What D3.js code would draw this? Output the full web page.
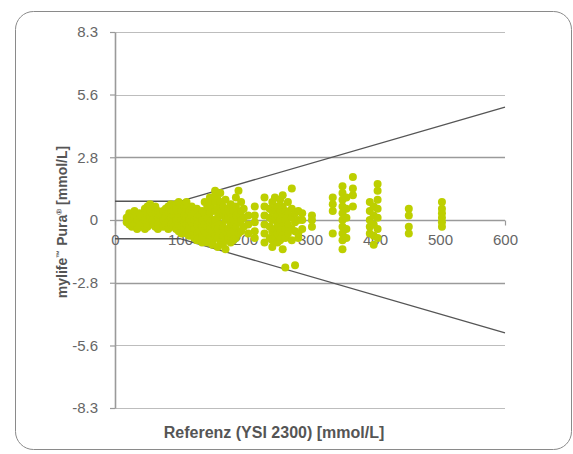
<!DOCTYPE html>
<html lang="de">
  <head>
    <meta charset="UTF-8" />
    <title>mylife Pura Differenzplot</title>
    <script src="https://cdn.jsdelivr.net/npm/d3@7"></script>
    <style>
      body {
        margin: 0;
        background: #fff;
      }
      text {
        font-family: "Liberation Sans", Arial, sans-serif;
      }
    </style>
  </head>
  <body>
    <script>
      // Referenzwerte (Spalten) und die gemessenen Abweichungen je Spalte
      var referenz = [
        18, 22, 26, 30, 34, 38, 42, 46, 50, 54, 58, 62, 66, 70, 74, 78, 82, 86,
        90, 94, 98, 102, 106, 110, 114, 118, 122, 126, 130, 134, 138, 142, 146,
        150, 154, 158, 162, 166, 170, 174, 178, 182, 186, 190, 194, 198, 205,
        215, 230, 238, 242, 246, 250, 254, 258, 262, 266, 272, 277, 282, 288,
        303, 335, 350, 356, 366, 392, 398, 404, 452, 503
      ];
      var abweichung = [
        [0.1, -0.1],
        [0.3, 0.0, -0.2],
        [0.2, -0.1, -0.3, 0.1],
        [0.4, 0.1, -0.2],
        [0.0, -0.4, 0.2],
        [0.3, -0.1, -0.3],
        [0.1, -0.2, 0.2],
        [0.5, 0.0, -0.4],
        [0.6, 0.3, -0.1, -0.3],
        [0.7, 0.4, 0.1, -0.2],
        [0.5, 0.2, -0.1, 0.0],
        [0.6, 0.3, -0.3],
        [0.4, 0.1, -0.2, -0.4],
        [0.2, -0.1, 0.3],
        [0.4, 0.0, -0.3],
        [0.2, -0.2, 0.5, 0.1],
        [0.6, 0.3, -0.1, -0.4],
        [0.7, 0.4, 0.1, -0.2],
        [0.6, 0.2, -0.1, -0.3, 0.4],
        [0.7, 0.5, 0.0, -0.4],
        [0.8, 0.3, 0.1, -0.2, -0.5],
        [0.7, 0.4, 0.0, -0.3, -0.6],
        [0.6, 0.2, -0.1, -0.4],
        [0.8, 0.5, 0.1, -0.2, -0.6],
        [0.4, 0.0, -0.3, -0.7],
        [0.6, 0.2, -0.1, -0.5],
        [0.3, 0.0, -0.4, -0.8],
        [0.5, 0.1, -0.2, -0.6, -0.9],
        [0.2, -0.1, -0.5, -0.8],
        [0.4, 0.0, -0.3, -0.7, -1.0],
        [0.8, 0.3, -0.2, -0.5, -0.9],
        [0.6, 0.1, -0.3, -0.6, -1.0],
        [1.0, 0.7, 0.3, -0.1, -0.4, -0.8],
        [0.5, 0.0, -0.5, -0.9, -1.1],
        [1.3, 1.1, 0.8, 0.4, 0.0, -0.3, -0.7],
        [0.9, 0.5, 0.1, -0.4, -0.8, -1.2],
        [1.2, 0.8, 0.3, -0.2, -0.6, -1.0],
        [0.6, 0.2, -0.3, -0.7, -1.1],
        [0.9, 0.4, 0.0, -0.5, -0.9, -1.3],
        [0.5, 0.1, -0.4, -0.8],
        [0.7, 0.3, -0.2, -0.6, -1.0],
        [0.4, 0.0, -0.5, -0.9],
        [1.0, 0.6, 0.2, -0.3, -0.8],
        [1.3, 0.3, -0.1, -0.6],
        [0.8, 0.4, 0.0, -0.5],
        [0.5, 0.1, -0.3],
        [0.2, -0.2, -0.6],
        [0.6, 0.2, -0.1, -0.5, -0.8],
        [1.0, 0.6, 0.2, -0.2, -0.6, -1.0],
        [0.5, 0.1, -0.3, -0.8],
        [0.8, 0.4, 0.0, -0.5, -0.9, -1.2],
        [1.0, 0.5, 0.1, -0.4, -0.8],
        [0.6, 0.2, -0.2, -0.6, -1.0],
        [0.9, 0.4, 0.0, -0.5, -0.9],
        [1.1, 0.6, 0.2, -0.3, -0.7, -1.3],
        [0.4, 0.0, -0.4, -0.8, -2.1],
        [0.8, 0.3, -0.2, -0.6],
        [1.4, 0.5, 0.1, -0.4, -0.9],
        [0.3, -0.1, -0.5, -2.0],
        [0.4, 0.0, -0.6, -0.8],
        [0.3, 0.0, -0.4],
        [0.2, 0.0, -0.3],
        [1.0, 0.7, 0.4, -0.6],
        [1.5, 1.2, 0.9, 0.6, 0.3, 0.0, -0.3, -0.6, -0.9, -1.3],
        [1.0, 0.5, 0.1, -0.4, -0.8],
        [1.9, 1.4, 1.1, 0.6],
        [0.8, 0.4, 0.0, -0.3, -0.6],
        [0.6, 0.2, -0.2, -0.7, -1.1],
        [1.6, 1.3, 0.9, 0.5, 0.1, -0.4, -0.8],
        [0.5, 0.2, -0.3, -0.6],
        [0.8, 0.5, 0.3, 0.1, -0.1, -0.3]
      ];

      // Grenzlinien (+/- 0.83 mmol/L bis 100, danach +/- 15 %)
      var grenzeX = [0, 100, 600];
      var grenzeOben = [0.83, 0.83, 5.0];
      var grenzeUnten = [-0.83, -0.83, -5.0];

      var xTicks = [0, 100, 200, 300, 400, 500, 600];
      var yTicks = [-8.33, -5.56, -2.78, 0, 2.78, 5.56, 8.33];

      var punkte = [];
      referenz.forEach(function (r, i) {
        abweichung[i].forEach(function (d) {
          punkte.push({ x: r, y: d });
        });
      });

      var width = 573,
        height = 454;

      var svg = d3
        .select("body")
        .append("svg")
        .attr("width", width)
        .attr("height", height);

      // Rahmen
      svg
        .append("rect")
        .attr("x", 15.5)
        .attr("y", 11.5)
        .attr("width", 556)
        .attr("height", 438)
        .attr("rx", 18)
        .attr("fill", "none")
        .attr("stroke", "#8a8a8a")
        .attr("stroke-width", 1);

      var x = d3.scaleLinear().domain([0, 600]).range([115, 505]);
      var y = d3.scaleLinear().domain([-8.33, 8.33]).range([408, 32]);

      // Gitterlinien
      svg
        .append("g")
        .selectAll("line")
        .data(yTicks)
        .enter()
        .append("line")
        .attr("x1", x(0))
        .attr("x2", x(600))
        .attr("y1", function (d) {
          return Math.round(y(d)) + 0.5;
        })
        .attr("y2", function (d) {
          return Math.round(y(d)) + 0.5;
        })
        .attr("stroke", function (d) {
          return Math.abs(d) < 3 ? "#9a9a9a" : "#bdbdbd";
        })
        .attr("stroke-width", function (d) {
          return d === 0 ? 1.6 : Math.abs(d) < 3 ? 1.3 : 1.1;
        });

      function fmt(d) {
        return d === 0 ? "0" : d.toFixed(1);
      }

      // y-Achse
      var yAxis = d3
        .axisLeft(y)
        .tickValues(yTicks)
        .tickSize(5)
        .tickSizeOuter(0)
        .tickPadding(12)
        .tickFormat(fmt);

      var gy = svg
        .append("g")
        .attr("transform", "translate(" + x(0) + ",0)")
        .call(yAxis);
      gy.select(".domain").attr("stroke", "#9a9a9a").attr("stroke-width", 1.6);
      gy.selectAll(".tick line")
        .attr("stroke", "#9a9a9a")
        .attr("stroke-width", 1.2);
      gy.selectAll(".tick text")
        .attr("fill", "#666")
        .style("font-size", "15px")
        .style("font-family", '"Liberation Sans", Arial, sans-serif');

      // x-Achse auf der Nulllinie
      var xAxis = d3
        .axisBottom(x)
        .tickValues(xTicks)
        .tickSize(5)
        .tickSizeOuter(0)
        .tickPadding(9);

      var gx = svg
        .append("g")
        .attr("transform", "translate(0," + (Math.round(y(0)) + 0.5) + ")")
        .call(xAxis);
      gx.select(".domain").remove();
      gx.selectAll(".tick line")
        .attr("stroke", "#9a9a9a")
        .attr("stroke-width", 1.2);
      gx.selectAll(".tick text")
        .attr("fill", "#666")
        .style("font-size", "15px")
        .style("font-family", '"Liberation Sans", Arial, sans-serif');

      // Grenzlinien
      var linie = d3
        .line()
        .x(function (d) {
          return x(d[0]);
        })
        .y(function (d) {
          return y(d[1]);
        });

      [grenzeOben, grenzeUnten].forEach(function (g) {
        svg
          .append("path")
          .attr("d", linie(d3.zip(grenzeX, g)))
          .attr("fill", "none")
          .attr("stroke", "#555")
          .attr("stroke-width", 1.3);
      });

      // Messpunkte
      svg
        .append("g")
        .selectAll("circle")
        .data(punkte)
        .enter()
        .append("circle")
        .attr("cx", function (d) {
          return x(d.x);
        })
        .attr("cy", function (d) {
          return y(d.y);
        })
        .attr("r", 4)
        .attr("fill", "#bdcf00");

      // Achsentitel
      svg
        .append("text")
        .attr("x", 274)
        .attr("y", 438)
        .attr("text-anchor", "middle")
        .attr("fill", "#555")
        .style("font-size", "16px")
        .style("font-weight", "bold")
        .text("Referenz (YSI 2300) [mmol/L]");

      var yt = svg
        .append("text")
        .attr("transform", "translate(67,222) rotate(-90)")
        .attr("text-anchor", "middle")
        .attr("fill", "#555")
        .style("font-size", "14px")
        .style("font-weight", "bold");
      yt.append("tspan").text("mylife");
      yt.append("tspan")
        .attr("dy", -5)
        .style("font-size", "8px")
        .text("™");
      yt.append("tspan").attr("dy", 5).text(" Pura");
      yt.append("tspan")
        .attr("dy", -5)
        .style("font-size", "8px")
        .text("®");
      yt.append("tspan").attr("dy", 5).text(" [mmol/L]");
    </script>
  </body>
</html>
